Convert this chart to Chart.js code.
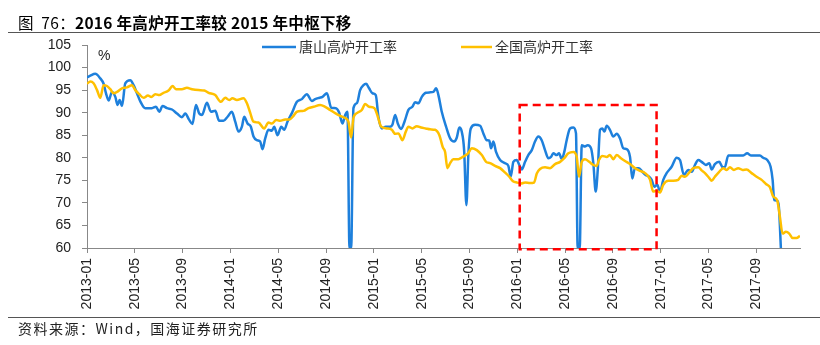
<!DOCTYPE html>
<html>
<head>
<meta charset="utf-8">
<title>高炉开工率</title>
<script src="https://cdn.jsdelivr.net/npm/chart.js@4.4.0/dist/chart.umd.min.js"></script>
<style>
  html, body { margin: 0; padding: 0; background: #fff; }
  #wrap { position: relative; width: 820px; height: 345px; overflow: hidden; }
  #chart { position: absolute; left: 0; top: 0; }
  .title { position: absolute; left: 18px; top: 12px; font-size: 15.5px; line-height: 20px; letter-spacing: 0.3px;
           font-family: "Noto Sans CJK SC", sans-serif; color: #000; white-space: pre; }
  .title b { font-weight: 700; }
  .rule { position: absolute; left: 8px; right: 0; height: 0; border-top: 1.5px solid #555; }
  .source { position: absolute; left: 18px; top: 319px; font-size: 14px; line-height: 18px;
            font-family: "Noto Sans CJK SC", sans-serif; color: #222; letter-spacing: 1.5px; white-space: nowrap; }
</style>
</head>
<body>
<div id="wrap">
  <canvas id="chart" width="820" height="345"></canvas>
  <div class="title">图  76：<b>2016 年高炉开工率较 2015 年中枢下移</b></div>
  <div class="rule" style="top:32px"></div>
  <div class="rule" style="top:317px"></div>
  <div class="source">资料来源：Wind，国海证券研究所</div>
</div>
<script>
// x 值：自 2013-01 起的月数
const xTickLabels = ["2013-01", "2013-05", "2013-09", "2014-01", "2014-05", "2014-09", "2015-01", "2015-05",
  "2015-09", "2016-01", "2016-05", "2016-09", "2017-01", "2017-05", "2017-09"];

const seriesNames = ["唐山高炉开工率", "全国高炉开工率"];

// 唐山高炉开工率
const tsX = [0, 0.28, 0.69, 1.11, 1.39, 1.59, 1.81, 2.09, 2.37, 2.56, 2.73, 2.93, 3.20, 3.62, 3.90, 4.18, 4.46, 4.87,
  5.43, 5.77, 6.05, 6.32, 6.69, 7.11, 7.53, 7.94, 8.22, 8.55, 8.83, 9.11, 9.39, 9.62, 10.03, 10.37, 10.73, 11.06,
  11.42, 11.76, 12.12, 12.40, 12.68, 12.96, 13.15, 13.43, 13.71, 13.93, 14.21, 14.49, 14.68, 14.91, 15.18, 15.47,
  15.66, 15.94, 16.25, 16.50, 16.77, 17.14, 17.56, 17.98, 18.39, 18.81, 19.09, 19.45, 19.70, 20.07, 20.43, 20.82,
  21.10, 21.37, 21.60, 21.79, 21.96, 22.10, 22.29, 22.58, 22.85, 23.13, 23.35, 23.60, 23.88, 24.16, 24.38, 24.67,
  25.00, 25.36, 25.55, 25.78, 26.00, 26.28, 26.56, 26.89, 27.22, 27.45, 27.73, 28.01, 28.34, 28.70, 28.98, 29.21,
  29.40, 29.68, 30.04, 30.38, 30.71, 30.94, 31.15, 31.35, 31.55, 31.74, 31.91, 32.11, 32.47, 32.89, 33.16, 33.44,
  33.66, 33.80, 34.00, 34.22, 34.56, 34.98, 35.25, 35.45, 35.67, 35.95, 36.17, 36.37, 36.65, 36.92, 37.21, 37.48,
  37.76, 38.04, 38.32, 38.60, 38.82, 39.01, 39.30, 39.49, 39.72, 39.93, 40.13, 40.41, 40.69, 40.91, 41.05, 41.22,
  41.39, 41.66, 41.89, 42.17, 42.36, 42.56, 42.73, 42.92, 43.11, 43.28, 43.48, 43.75, 44.03, 44.31, 44.59, 44.87,
  45.15, 45.43, 45.62, 45.84, 46.18, 46.46, 46.74, 47.02, 47.24, 47.46, 47.71, 47.94, 48.21, 48.49, 48.91, 49.33,
  49.61, 49.94, 50.30, 50.59, 50.86, 51.14, 51.42, 51.78, 52.06, 52.26, 52.53, 52.89, 53.18, 53.37, 53.65, 54.35,
  54.90, 55.23, 55.54, 56.30, 56.57, 56.91, 57.19, 57.36, 57.49, 57.74, 57.88, 58.05];
const tsY = [97.8, 98.2, 98.6, 97.6, 96.4, 94.3, 92.7, 94.6, 93.5, 91.7, 92.8, 91.5, 96.5, 97.2, 96.1, 94.3, 92.5, 91.0,
  91.0, 91.3, 90.2, 91.5, 91.0, 90.7, 89.8, 89.0, 89.8, 88.4, 87.5, 91.7, 89.8, 89.5, 92.2, 90.2, 90.4, 88.2,
  88.2, 89.1, 90.2, 88.0, 85.8, 86.9, 89.1, 87.6, 86.9, 84.7, 83.9, 83.6, 81.9, 84.3, 86.2, 86.0,
  86.9, 85.0, 86.9, 86.2, 88.0, 89.9, 92.4, 93.0, 94.1, 92.6, 93.0, 93.3, 93.5, 94.3, 91.1, 91.0,
  90.0, 87.6, 89.5, 90.2, 60, 60, 91.0, 92.1, 95.0, 96.1, 96.4, 95.4, 94.3, 93.9, 89.1, 86.5,
  86.9, 86.9, 87.3, 89.5, 87.6, 86.4, 88.0, 90.6, 91.3, 92.3, 92.1, 93.5, 94.4, 94.5, 94.6, 95.4,
  93.9, 90.2, 86.9, 84.3, 83.6, 84.5, 86.7, 85.8, 81.7, 69.5, 81.0, 86.5, 87.3, 87.1, 85.4, 83.9,
  83.8, 82.1, 83.6, 81.3, 79.5, 78.8, 78.2, 75.8, 79.1, 79.5, 78.4, 77.4, 79.1, 80.6, 81.7, 83.6,
  84.7, 83.9, 81.7, 79.9, 80.2, 81.0, 80.6, 81.0, 79.7, 81.3, 83.9, 86.5, 86.7, 85.4, 60, 60,
  82.8, 82.5, 82.8, 82.1, 78.8, 72.5, 77.3, 86.2, 86.5, 85.8, 87.1, 86.2, 84.7, 85.3, 84.3, 82.1,
  81.9, 80.2, 75.4, 77.7, 77.7, 76.9, 76.2, 75.8, 75.1, 73.6, 74.0, 72.5, 75.1, 76.6, 78.0, 80.0,
  79.5, 76.2, 77.3, 76.9, 78.4, 79.5, 79.1, 78.4, 78.8, 77.4, 78.6, 79.1, 77.9, 78.0, 80.5, 80.5,
  80.5, 81.0, 80.5, 80.5, 80.0, 79.5, 78.0, 75.1, 70.6, 70.5, 69.2, 60];

// 全国高炉开工率
const qgX = [0, 0.28, 0.55, 0.84, 1.11, 1.39, 1.67, 1.95, 2.22, 2.51, 2.93, 3.34, 3.76, 4.04, 4.37, 4.73, 5.10, 5.38,
  5.71, 6.05, 6.40, 6.82, 7.16, 7.44, 7.94, 8.36, 8.78, 9.33, 9.81, 10.17, 10.73, 11.20, 11.56, 11.90, 12.17, 12.54,
  13.09, 13.38, 13.65, 13.93, 14.35, 14.82, 15.18, 15.47, 15.83, 16.16, 16.58, 16.94, 17.22, 17.56, 18.11, 18.53,
  18.95, 19.51, 19.92, 20.34, 20.76, 21.18, 21.60, 21.87, 22.10, 22.29, 22.58, 22.99, 23.27, 23.60, 24.05, 24.33,
  24.61, 25.08, 25.50, 25.78, 26.05, 26.39, 26.67, 26.89, 27.22, 27.59, 27.95, 28.34, 28.70, 29.12, 29.48, 29.77,
  29.96, 30.15, 30.38, 30.65, 31.07, 31.44, 31.71, 31.91, 32.19, 32.61, 33.03, 33.39, 33.72, 34.14, 34.56, 34.98,
  35.33, 35.64, 36.00, 36.31, 36.65, 37.06, 37.40, 37.63, 37.90, 38.32, 38.74, 39.16, 39.58, 39.93, 40.27, 40.69,
  40.97, 41.16, 41.39, 41.66, 42.02, 42.36, 42.64, 42.83, 43.11, 43.48, 43.75, 44.03, 44.31, 44.67, 45.01, 45.43,
  45.84, 46.26, 46.68, 47.10, 47.37, 47.66, 47.94, 48.21, 48.63, 49.04, 49.46, 49.75, 50.03, 50.38, 50.72, 51.14,
  51.42, 51.70, 52.06, 52.26, 52.53, 52.89, 53.23, 53.51, 53.79, 54.12, 54.48, 54.85, 55.18, 55.60, 56.02, 56.44,
  56.80, 57.13, 57.41, 57.74, 57.97, 58.19, 58.47, 58.75, 59.03, 59.36, 59.64];
const qgY = [96.4, 96.9, 96.5, 95.0, 93.3, 96.1, 95.9, 95.2, 94.3, 94.6, 95.4, 95.6, 96.1, 95.0, 94.1, 93.3, 93.8, 93.5,
  94.1, 93.9, 94.4, 94.9, 95.9, 95.2, 95.2, 95.5, 95.2, 95.0, 94.9, 94.4, 93.9, 92.4, 93.3, 92.8, 93.2, 92.8,
  93.2, 92.1, 90.0, 88.0, 87.8, 86.5, 87.8, 87.6, 88.4, 88.2, 88.5, 88.5, 89.1, 90.2, 90.4, 91.0,
  91.3, 91.7, 91.3, 90.6, 89.9, 89.3, 88.8, 88.0, 84.5, 88.8, 89.9, 90.6, 91.9, 91.3, 91.0, 89.1,
  86.9, 86.5, 86.2, 85.3, 85.4, 83.9, 85.8, 86.9, 86.5, 87.0, 86.7, 86.5, 86.3, 86.2, 85.0, 82.3,
  81.3, 77.7, 78.8, 79.7, 79.7, 80.2, 80.6, 81.1, 82.1, 81.7, 80.6, 79.1, 78.8, 78.2, 77.7, 76.7,
  75.8, 74.8, 74.5, 74.3, 74.5, 74.4, 74.5, 76.5, 77.5, 77.9, 77.7, 78.6, 79.1, 79.9, 81.0, 81.3,
  80.2, 75.8, 79.1, 79.7, 79.1, 78.4, 78.2, 79.5, 80.4, 80.2, 80.6, 79.7, 80.6, 79.9, 79.3, 78.6,
  77.7, 77.1, 76.6, 75.2, 72.5, 72.7, 72.3, 74.0, 74.9, 74.9, 75.1, 76.0, 75.8, 76.7, 77.7, 77.9,
  77.2, 76.6, 75.5, 74.9, 75.8, 76.9, 77.7, 77.3, 77.9, 77.3, 77.7, 77.3, 77.4, 76.6, 75.8, 75.1,
  74.2, 73.5, 71.4, 70.6, 66.9, 63.2, 63.6, 63.2, 62.2, 62.2, 62.7];

// 红色虚线框（月数 / 百分比）
const boxX = [36.2, 47.65];
const boxY = [59.7, 91.7];

const BLUE = "#1e80dc";
const GOLD = "#ffc000";
const AXIS = "#888";

const toPoints = (xs, ys) => xs.map((x, i) => ({ x, y: ys[i] }));

// 图例、单位、虚线框
const overlayPlugin = {
  id: "overlay",
  afterDatasetsDraw(chart) {
    const { ctx, chartArea, scales: { x, y } } = chart;
    ctx.save();

    // 虚线框
    const l = x.getPixelForValue(boxX[0]);
    const r = x.getPixelForValue(boxX[1]);
    const t = y.getPixelForValue(boxY[1]);
    const b = y.getPixelForValue(boxY[0]);
    ctx.strokeStyle = "#ff0000";
    ctx.lineWidth = 2.5;
    ctx.setLineDash([8, 5]);
    ctx.strokeRect(l, t, r - l, b - t);
    ctx.setLineDash([]);

    // %
    ctx.fillStyle = "#222";
    ctx.font = "14px 'Liberation Sans', Arial, sans-serif";
    ctx.textAlign = "left";
    ctx.textBaseline = "middle";
    ctx.fillText("%", chartArea.left + 11, chartArea.top + 11);

    // 图例
    const items = [
      { x0: 262, x1: 296, color: BLUE, label: seriesNames[0] },
      { x0: 461, x1: 492, color: GOLD, label: seriesNames[1] },
    ];
    const ly = chartArea.top + 2;
    ctx.font = "14px 'Noto Sans CJK SC', sans-serif";
    items.forEach(it => {
      ctx.strokeStyle = it.color;
      ctx.lineWidth = 2.5;
      ctx.beginPath();
      ctx.moveTo(it.x0, ly);
      ctx.lineTo(it.x1, ly);
      ctx.stroke();
      ctx.fillStyle = "#333";
      ctx.fillText(it.label, it.x1 + 3, ly);
    });
    ctx.restore();
  },
};

new Chart(document.getElementById("chart"), {
  type: "line",
  data: {
    datasets: [
      {
        label: seriesNames[0],
        data: toPoints(tsX, tsY),
        borderColor: BLUE,
        borderWidth: 2.5,
        pointRadius: 0,
        cubicInterpolationMode: "monotone",
        order: 2,
      },
      {
        label: seriesNames[1],
        data: toPoints(qgX, qgY),
        borderColor: GOLD,
        borderWidth: 2.5,
        pointRadius: 0,
        cubicInterpolationMode: "monotone",
        order: 1,
      },
    ],
  },
  options: {
    responsive: false,
    animation: false,
    events: [],
    layout: { padding: { left: 0, right: 20, top: 45, bottom: 33 } },
    plugins: { legend: { display: false }, tooltip: { enabled: false } },
    scales: {
      x: {
        type: "linear",
        min: 0,
        max: 59.65,
        afterBuildTicks: (scale) => { scale.ticks = xTickLabels.map((_, i) => ({ value: i * 4 })); },
        afterFit: (scale) => { scale.height = 64; },
        grid: { drawOnChartArea: false, drawTicks: true, tickLength: 5, color: AXIS },
        border: { color: AXIS },
        ticks: {
          autoSkip: false,
          minRotation: 90,
          maxRotation: 90,
          padding: 5,
          color: "#222",
          font: { family: "'Liberation Sans', Arial, sans-serif", size: 14 },
          callback: (v, i) => xTickLabels[i],
        },
      },
      y: {
        min: 60,
        max: 105,
        afterFit: (scale) => { scale.width = 87; },
        grid: { drawOnChartArea: false, drawTicks: true, tickLength: 5, color: AXIS },
        border: { color: AXIS },
        ticks: {
          stepSize: 5,
          padding: 11,
          color: "#222",
          font: { family: "'Liberation Sans', Arial, sans-serif", size: 14 },
        },
      },
    },
  },
  plugins: [overlayPlugin],
});
</script>
</body>
</html>
